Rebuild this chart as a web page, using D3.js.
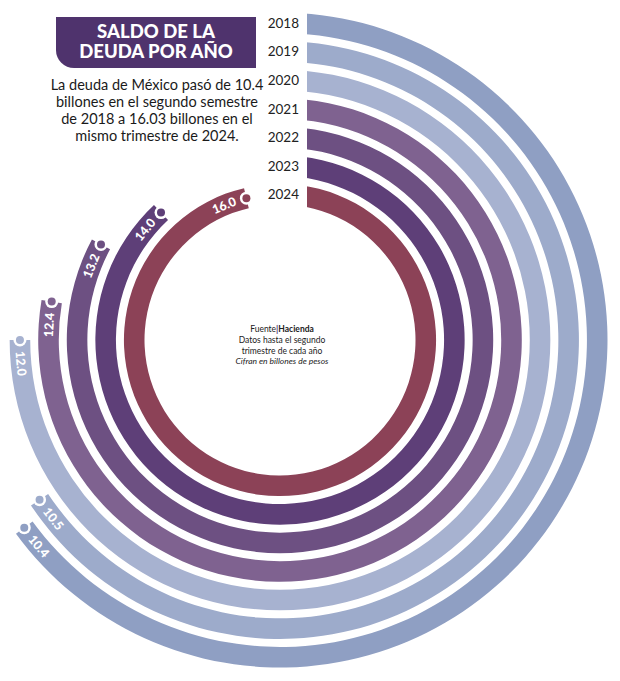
<!DOCTYPE html>
<html>
<head>
<meta charset="utf-8">
<script src="https://cdn.jsdelivr.net/npm/d3@7"></script>
<style>
  body { margin: 0; background: #fff; }
  svg { display: block; font-family: Lato, "Open Sans", sans-serif; }
</style>
</head>
<body>
<div id="chart"></div>
<script>
const width = 620, height = 681;

// data
const years = ["2018", "2019", "2020", "2021", "2022", "2023", "2024"];
const values = [10.4, 10.5, 12.0, 12.4, 13.2, 14.0, 16.0];
const valueLabels = ["10.4", "10.5", "12.0", "12.4", "13.2", "14.0", "16.0"];
const colors = ["#8f9fc3", "#9dabcb", "#a7b2d0", "#7f6290", "#6d5082", "#5e3f78", "#8c4257"];
const titleLines = ["SALDO DE LA", "DEUDA POR AÑO"];
const introLines = [
  "La deuda de México pasó de 10.4",
  "billones en el segundo semestre",
  "de 2018 a 16.03 billones en el",
  "mismo trimestre de 2024."
];
const noteLines = ["Datos hasta el segundo", "trimestre de cada año"];

const cx = 280, cy = 340, gap = 27;
const rad = d => d * Math.PI / 180;

const svg = d3.select("#chart").append("svg")
    .attr("width", width)
    .attr("height", height);

// rings, 2024 inside, 2018 outside
const r = d3.scaleBand()
    .domain(years.slice().reverse())
    .range([135.5, 327.5])
    .paddingInner(0.28);

const angle = d3.scaleLinear()
    .domain([0, 15.27])
    .range([0, rad(336)])
    .clamp(true);

const rows = years.map((y, i) => {
    const r0 = r(y), r1 = r0 + r.bandwidth(), rm = (r0 + r1) / 2;
    const a0 = Math.asin(gap / rm);
    return { year: y, value: values[i], label: valueLabels[i], color: colors[i],
             r0, r1, rm, end: a0 + angle(values[i]) };
});

// clip so every ring starts on the same vertical line
const clip = svg.append("defs").append("clipPath").attr("id", "startclip");
clip.append("rect").attr("x", 0).attr("y", 0).attr("width", cx).attr("height", height);
clip.append("rect").attr("x", cx + gap).attr("y", 0).attr("width", width).attr("height", height);
clip.append("rect").attr("x", 0).attr("y", cy).attr("width", width).attr("height", height);

const arc = d3.arc()
    .innerRadius(d => d.r0)
    .outerRadius(d => d.r1)
    .startAngle(0)
    .endAngle(d => d.end);

const g = svg.append("g").attr("transform", `translate(${cx},${cy})`);

g.append("g")
    .attr("clip-path", "url(#startclip)")
    .attr("transform", `translate(${-cx},${-cy})`)
  .append("g")
    .attr("transform", `translate(${cx},${cy})`)
    .selectAll("path")
    .data(rows)
    .join("path")
    .attr("d", arc)
    .attr("fill", d => d.color);

// end markers
const pt = (a, rr) => [rr * Math.sin(a), -rr * Math.cos(a)];

const ends = g.append("g").selectAll("g")
    .data(rows)
    .join("g")
    .attr("transform", d => `translate(${pt(d.end, d.rm)})`);
ends.append("circle").attr("r", 6.5).attr("fill", "#fff");
ends.append("circle").attr("r", 4).attr("fill", d => d.color);

g.append("g").selectAll("text")
    .data(rows)
    .join("text")
    .attr("transform", d => {
        const a = d.end - 23.5 / d.rm;
        const deg = a * 180 / Math.PI;
        const rot = (deg > 90 && deg < 270) ? deg - 180 : deg;
        return `translate(${pt(a, d.rm)}) rotate(${rot})`;
    })
    .attr("text-anchor", "middle")
    .attr("dominant-baseline", "central")
    .attr("fill", "#fff")
    .attr("font-weight", "900")
    .attr("font-size", 12.5)
    .text(d => d.label);

// year labels at the start of each ring
svg.append("g").selectAll("text")
    .data(rows)
    .join("text")
    .attr("x", cx + gap - 8)
    .attr("y", d => cy - d.rm)
    .attr("text-anchor", "end")
    .attr("dominant-baseline", "central")
    .attr("font-size", 13.5)
    .attr("fill", "#222")
    .text(d => d.year);

// title box
svg.append("path")
    .attr("d", "M56,17H256V68H74A18,18 0 0 1 56,50Z")
    .attr("fill", "#4f336d");

svg.append("g").selectAll("text")
    .data(titleLines)
    .join("text")
    .attr("x", 156)
    .attr("y", (d, i) => 38 + i * 20)
    .attr("text-anchor", "middle")
    .attr("fill", "#fff")
    .attr("font-weight", "900")
    .attr("font-size", 18.5)
    .text(d => d);

svg.append("g").selectAll("text")
    .data(introLines)
    .join("text")
    .attr("x", 157)
    .attr("y", (d, i) => 90 + i * 17)
    .attr("text-anchor", "middle")
    .attr("fill", "#1a1a1a")
    .attr("font-size", 14.5)
    .text(d => d);

// center note
const note = svg.append("g").attr("font-size", 8.5).attr("fill", "#222");
const src = note.append("text").attr("x", cx + 2).attr("y", 332).attr("text-anchor", "middle");
src.append("tspan").text("Fuente");
src.append("tspan").attr("fill", "#4f336d").attr("font-weight", "bold").text("|");
src.append("tspan").attr("font-weight", "bold").text("Hacienda");
note.selectAll("text.l")
    .data(noteLines)
    .join("text")
    .attr("class", "l")
    .attr("x", cx + 2)
    .attr("y", (d, i) => 343 + i * 10.5)
    .attr("text-anchor", "middle")
    .text(d => d);
note.append("text")
    .attr("x", cx + 2)
    .attr("y", 364)
    .attr("text-anchor", "middle")
    .attr("font-style", "italic")
    .text("Cifran en billones de pesos");
</script>
</body>
</html>
